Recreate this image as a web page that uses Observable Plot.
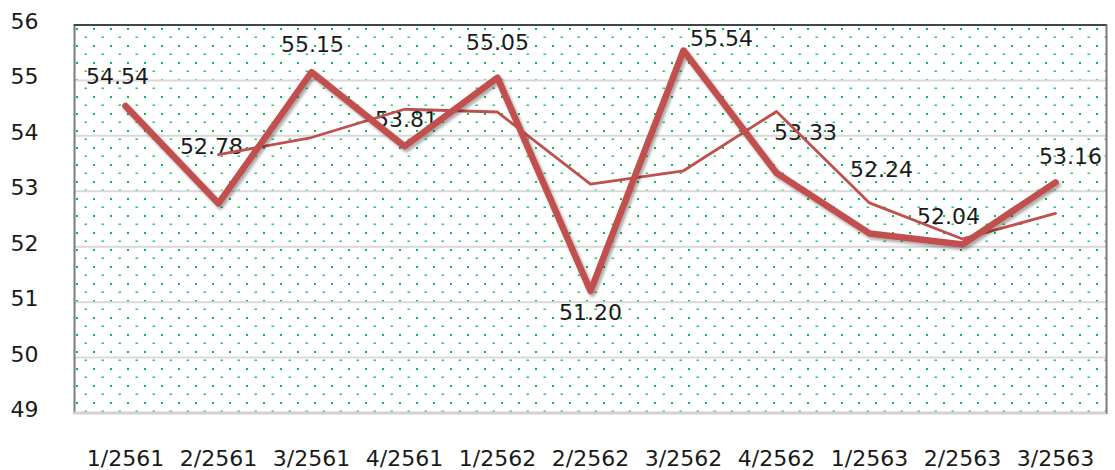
<!DOCTYPE html>
<html><head><meta charset="utf-8">
<script src="https://cdn.jsdelivr.net/npm/d3@7"></script>
<script src="https://cdn.jsdelivr.net/npm/@observablehq/plot@0.6"></script>
<style>body{margin:0;background:#fff;} #chart svg{display:block;}</style>
</head><body><div id="chart"></div>
<script>
// ---- data ----
const quarters = ["1/2561","2/2561","3/2561","4/2561","1/2562","2/2562","3/2562","4/2562","1/2563","2/2563","3/2563"];
const mainValues = [54.54, 52.78, 55.15, 53.81, 55.05, 51.20, 55.54, 53.33, 52.24, 52.04, 53.16];
const trendValues = [null, 53.66, 53.97, 54.48, 54.43, 53.13, 53.37, 54.44, 52.79, 52.14, 52.60];
const yTicks = [49, 50, 51, 52, 53, 54, 55, 56];
const gridValues = [50, 51, 52, 53, 54, 55];

// ---- label placement (style) ----
const labelOffsets = [[-8,-29],[-7,-57],[1,-27],[2,-26],[0,-35],[0,22],[38,-12],[29,-40],[12,-63],[-14,-28],[15,-25]];

const mainData = quarters.map((q, i) => ({q, v: mainValues[i]}));
const trendData = quarters.map((q, i) => ({q, v: trendValues[i]})).filter(d => d.v != null);

const M = {left: 74, right: 9, top: 24.5, bottom: 57.5};
const W = 1115, H = 470;
const red = "#c0504d";
const FS = 22;

const plot = Plot.plot({
  width: W, height: H,
  marginLeft: M.left, marginRight: M.right, marginTop: M.top, marginBottom: M.bottom,
  x: {type: "point", domain: quarters, padding: 0.5, label: null},
  y: {domain: [49, 56], label: null},
  style: {fontFamily: "DejaVu Sans", fontSize: FS + "px", color: "#1a1a1a", background: "white", overflow: "visible"},
  marks: [
    Plot.ruleY(gridValues, {stroke: "#d9d9d9", strokeWidth: 2}),
    Plot.frame({stroke: "#7a7a7a", strokeWidth: 2}),
    Plot.ruleY([49], {stroke: "#d2d2d2", strokeWidth: 3}),
    Plot.ruleY([56], {stroke: "#444", strokeWidth: 1.8}),
    Plot.axisY({ticks: yTicks, tickFormat: "d", tickSize: 0, tickPadding: 36, dy: -3, fontSize: FS}),
    Plot.axisX({tickSize: 0, tickPadding: 37, fontSize: FS}),
    ...mainData.map((d, i) => Plot.text([d], {
      x: "q", y: "v", text: e => e.v.toFixed(2),
      dx: labelOffsets[i][0], dy: labelOffsets[i][1], fontSize: FS, fill: "#1a1a1a"
    })),
    Plot.line(trendData, {x: "q", y: "v", stroke: red, strokeWidth: 2.8, strokeLinejoin: "round"}),
    Plot.line(mainData, {x: "q", y: "v", stroke: red, strokeWidth: 6.5, strokeLinecap: "round", strokeLinejoin: "round", ariaDescription: "main-series"})
  ]
});

// background dot pattern + shadow filter
const svg = d3.select(plot);
const defs = svg.insert("defs", ":first-child");
const pat = defs.append("pattern").attr("id", "dots").attr("patternUnits", "userSpaceOnUse")
  .attr("x", 76).attr("y", 28).attr("width", 17).attr("height", 17);
pat.append("rect").attr("x", 0).attr("y", 0).attr("width", 2).attr("height", 2).attr("fill", "#00c050");
pat.append("rect").attr("x", 8.5).attr("y", 8.5).attr("width", 2.5).attr("height", 1.5).attr("fill", "#00c050").attr("opacity", 0.85);
const flt = defs.append("filter").attr("id", "shadow").attr("x", "-10%").attr("y", "-10%").attr("width", "120%").attr("height", "120%");
flt.append("feDropShadow").attr("dx", 2).attr("dy", 2.5).attr("stdDeviation", 1.6).attr("flood-color", "#000").attr("flood-opacity", 0.35);
svg.insert("rect", "defs + *")
  .attr("x", M.left).attr("y", M.top)
  .attr("width", W - M.left - M.right).attr("height", H - M.top - M.bottom)
  .attr("fill", "url(#dots)");
let mainG = svg.select('g[aria-description="main-series"]');
if (mainG.empty()) { const ls = svg.selectAll('g[aria-label="line"]').nodes(); mainG = d3.select(ls[ls.length - 1]); }
mainG.attr("filter", "url(#shadow)");

document.getElementById("chart").appendChild(plot);
</script>
</body></html>
